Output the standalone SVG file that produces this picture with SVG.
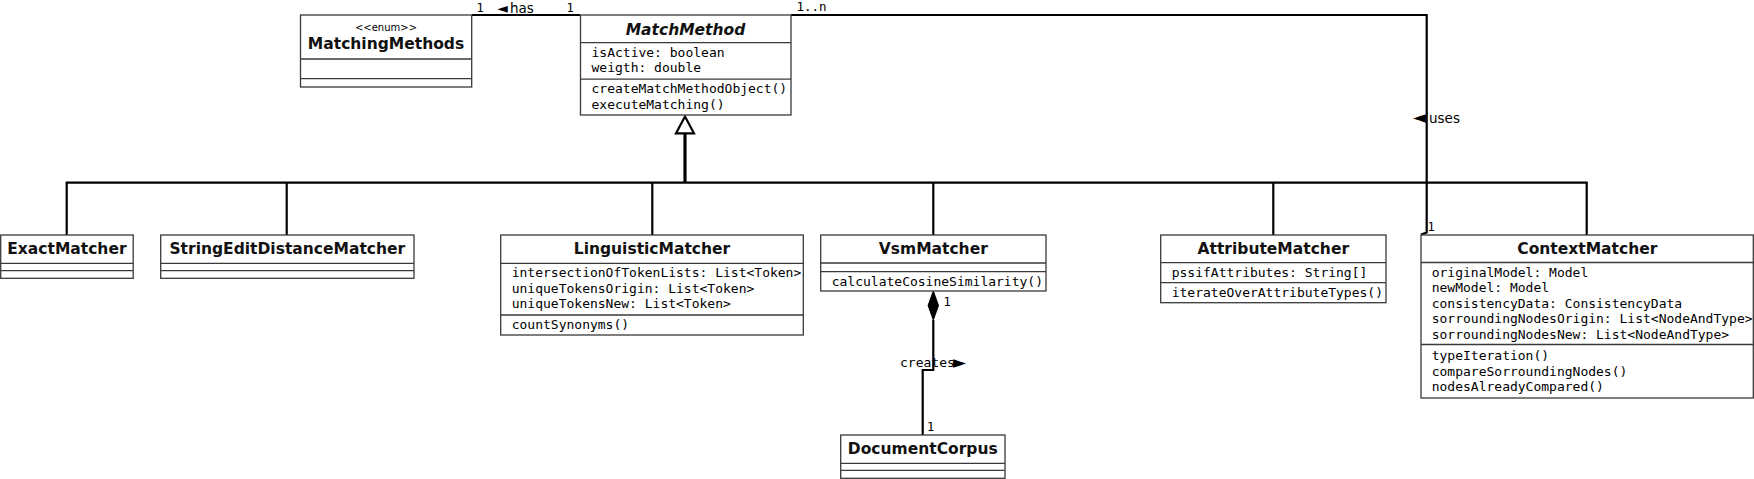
<svg xmlns="http://www.w3.org/2000/svg" width="1754" height="479" viewBox="0 0 1754 479">
<defs>
<style>
.box{fill:#fff;stroke:#3a3a3a;stroke-width:1.3}
.div{stroke:#3a3a3a;stroke-width:1.3;fill:none}
.title{font-family:"DejaVu Sans",sans-serif;font-weight:bold;font-size:15.5px;text-anchor:middle;fill:#111}
.it{font-style:italic}
.mono{font-family:"DejaVu Sans Mono",monospace;font-size:13px;fill:#000}
.st{font-family:"DejaVu Sans",sans-serif;font-size:10px;text-anchor:middle;fill:#000}
.lbl{font-family:"DejaVu Sans",sans-serif;font-size:13.5px;fill:#000}
.tri{font-family:"DejaVu Sans",sans-serif;font-size:17px}
.mul{font-family:"DejaVu Sans Mono",monospace;font-size:12px;fill:#000}
.ln{stroke:#000;stroke-width:2.2;fill:none}
</style>
</defs>
<rect width="1754" height="479" fill="#fff"/>

<g id="connectors">
  <!-- generalization tree -->
  <polyline class="ln" points="66.7,235 66.7,182.7 1586.7,182.7 1586.7,235"/>
  <line class="ln" x1="286.7" y1="182.7" x2="286.7" y2="235"/>
  <line class="ln" x1="652.3" y1="182.7" x2="652.3" y2="235"/>
  <line class="ln" x1="933.3" y1="182.7" x2="933.3" y2="235"/>
  <line class="ln" x1="1273.3" y1="182.7" x2="1273.3" y2="235"/>
  <line x1="685" y1="133.3" x2="685" y2="182.7" stroke="#000" stroke-width="3.2"/>
  <polygon points="685,116.5 676,133.3 694,133.3" fill="#fff" stroke="#000" stroke-width="2.2"/>
  <!-- has -->
  <line class="ln" x1="472" y1="15" x2="580" y2="15"/>
  <!-- uses -->
  <polyline class="ln" points="791,15 1426.7,15 1426.7,232.5 1421,234.5"/>
  <!-- creates composition -->
  <polyline class="ln" points="933.3,320 933.3,370 922.7,370 922.7,435"/>
  <polygon points="933.3,291 938.5,305.5 933.3,320 928.1,305.5" fill="#000" stroke="#000" stroke-width="1"/>
  <!-- labels -->
  <text class="mul" x="476.5" y="11.5">1</text>
  <text class="lbl" x="497" y="12.5"><tspan style="font-size:14px">◄</tspan><tspan x="510">has</tspan></text>
  <text class="mul" x="566.5" y="11.5">1</text>
  <text class="mul" x="796.5" y="11" style="font-size:12.5px">1..n</text>
  <text class="lbl" x="1413" y="123"><tspan class="tri">◄</tspan><tspan x="1429">uses</tspan></text>
  <text class="mul" x="1427.5" y="231">1</text>
  <text class="mul" x="943.5" y="306">1</text>
  <text class="mono" x="900" y="367">creates<tspan class="tri" x="953" y="368">►</tspan></text>
  <text class="mul" x="927" y="431">1</text>
</g>

<g id="MatchingMethods">
  <rect class="box" x="300.5" y="15" width="171.2" height="72"/>
  <line class="div" x1="300.5" y1="59" x2="471.7" y2="59"/>
  <line class="div" x1="300.5" y1="78.7" x2="471.7" y2="78.7"/>
  <text class="st" x="386" y="30.5">&lt;&lt;enum&gt;&gt;</text>
  <text class="title" x="386" y="48.5">MatchingMethods</text>
</g>

<g id="MatchMethod">
  <rect class="box" x="580.5" y="15" width="210.5" height="100"/>
  <line class="div" x1="580.5" y1="42.7" x2="791" y2="42.7"/>
  <line class="div" x1="580.5" y1="79.2" x2="791" y2="79.2"/>
  <text class="title it" x="685.5" y="34.5">MatchMethod</text>
  <text class="mono" x="591.5" y="56.5">isActive: boolean</text>
  <text class="mono" x="591.5" y="72">weigth: double</text>
  <text class="mono" x="591.5" y="93">createMatchMethodObject()</text>
  <text class="mono" x="591.5" y="108.5">executeMatching()</text>
</g>

<g id="ExactMatcher">
  <rect class="box" x="0.7" y="235" width="132.5" height="43.3"/>
  <line class="div" x1="0.7" y1="263.3" x2="133.2" y2="263.3"/>
  <line class="div" x1="0.7" y1="270.7" x2="133.2" y2="270.7"/>
  <text class="title" x="66.9" y="253.5">ExactMatcher</text>
</g>

<g id="StringEditDistanceMatcher">
  <rect class="box" x="160.7" y="235" width="253.3" height="43.3"/>
  <line class="div" x1="160.7" y1="263.3" x2="414" y2="263.3"/>
  <line class="div" x1="160.7" y1="270.7" x2="414" y2="270.7"/>
  <text class="title" x="287.3" y="253.5">StringEditDistanceMatcher</text>
</g>

<g id="LinguisticMatcher">
  <rect class="box" x="500.7" y="235" width="302.6" height="100"/>
  <line class="div" x1="500.7" y1="263.3" x2="803.3" y2="263.3"/>
  <line class="div" x1="500.7" y1="315" x2="803.3" y2="315"/>
  <text class="title" x="652" y="253.5">LinguisticMatcher</text>
  <text class="mono" x="511.7" y="277">intersectionOfTokenLists: List&lt;Token&gt;</text>
  <text class="mono" x="511.7" y="292.5">uniqueTokensOrigin: List&lt;Token&gt;</text>
  <text class="mono" x="511.7" y="308">uniqueTokensNew: List&lt;Token&gt;</text>
  <text class="mono" x="511.7" y="329">countSynonyms()</text>
</g>

<g id="VsmMatcher">
  <rect class="box" x="820.7" y="235" width="225.3" height="56"/>
  <line class="div" x1="820.7" y1="263" x2="1046" y2="263"/>
  <line class="div" x1="820.7" y1="271.7" x2="1046" y2="271.7"/>
  <text class="title" x="933.3" y="253.5">VsmMatcher</text>
  <text class="mono" x="831.7" y="285.5">calculateCosineSimilarity()</text>
</g>

<g id="AttributeMatcher">
  <rect class="box" x="1160.7" y="235" width="225.3" height="67.7"/>
  <line class="div" x1="1160.7" y1="262.7" x2="1386" y2="262.7"/>
  <line class="div" x1="1160.7" y1="282.7" x2="1386" y2="282.7"/>
  <text class="title" x="1273.3" y="253.5">AttributeMatcher</text>
  <text class="mono" x="1171.7" y="276.7">pssifAttributes: String[]</text>
  <text class="mono" x="1171.7" y="296.7">iterateOverAttributeTypes()</text>
</g>

<g id="ContextMatcher">
  <rect class="box" x="1421" y="235" width="332.3" height="163"/>
  <line class="div" x1="1421" y1="262.5" x2="1753.3" y2="262.5"/>
  <line class="div" x1="1421" y1="344.5" x2="1753.3" y2="344.5"/>
  <text class="title" x="1587.3" y="253.5">ContextMatcher</text>
  <text class="mono" x="1431.7" y="276.7">originalModel: Model</text>
  <text class="mono" x="1431.7" y="292.2">newModel: Model</text>
  <text class="mono" x="1431.7" y="307.7">consistencyData: ConsistencyData</text>
  <text class="mono" x="1431.7" y="323.2">sorroundingNodesOrigin: List&lt;NodeAndType&gt;</text>
  <text class="mono" x="1431.7" y="338.7">sorroundingNodesNew: List&lt;NodeAndType&gt;</text>
  <text class="mono" x="1431.7" y="360">typeIteration()</text>
  <text class="mono" x="1431.7" y="375.5">compareSorroundingNodes()</text>
  <text class="mono" x="1431.7" y="391">nodesAlreadyCompared()</text>
</g>

<g id="DocumentCorpus">
  <rect class="box" x="840.7" y="435" width="164.3" height="43.3"/>
  <line class="div" x1="840.7" y1="463.3" x2="1005" y2="463.3"/>
  <line class="div" x1="840.7" y1="470.3" x2="1005" y2="470.3"/>
  <text class="title" x="922.8" y="454">DocumentCorpus</text>
</g>
</svg>
